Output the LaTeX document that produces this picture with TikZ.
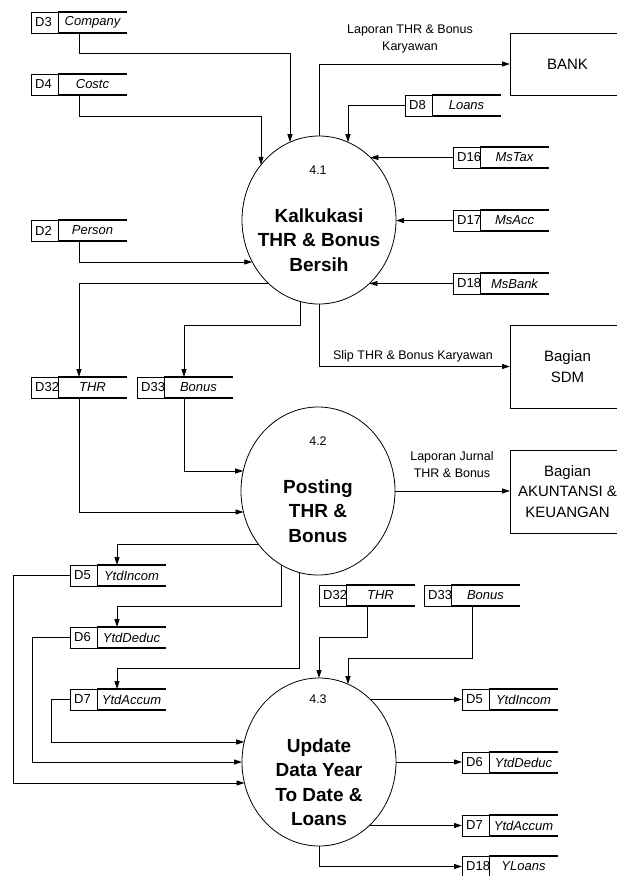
\documentclass[tikz,border=0pt]{standalone}
\usepackage{fontspec}
\setmainfont{Liberation Sans}
\usetikzlibrary{shapes.geometric,arrows.meta,calc}

\tikzset{
  conn/.style={draw, line width=0.8pt, -{Triangle[length=8pt,width=5pt]}},
  process/.style={ellipse, draw, line width=0.8pt, minimum width=154pt,
    minimum height=168pt, inner sep=0pt, outer sep=0pt},
  pnum/.style={font=\fontsize{12.5}{15}\selectfont, inner sep=0pt},
  ptitle/.style={font=\bfseries\fontsize{19}{24.5}\selectfont, align=center, inner sep=0pt},
  entity/.style={draw, line width=0.8pt, anchor=north west, minimum width=115pt,
    minimum height=62pt, inner sep=0pt, outer sep=0pt},
  entitytext/.style={font=\fontsize{15}{20.5}\selectfont, align=center, inner sep=0pt},
  store/.style={anchor=north west, minimum width=96pt, minimum height=21pt,
    inner sep=0pt, outer sep=0pt},
  storebox/.style={draw, line width=0.7pt},
  storeedge/.style={draw, line width=1.2pt},
  storeid/.style={font=\fontsize{13}{15}\selectfont, inner sep=0pt, anchor=west},
  storelabel/.style={font=\itshape\fontsize{13}{15}\selectfont, inner sep=0pt},
  flowlabel/.style={font=\fontsize{12.5}{17}\selectfont, align=center, inner sep=0pt},
}

% data store: name, x, y (top left), id, label
\newcommand{\datastore}[5]{%
  \node[store] (#1) at (#2,#3) {};
  \draw[storebox] (#1.north west) rectangle ([xshift=27pt]#1.south west);
  \draw[storeedge] ([xshift=27pt]#1.north west) -- (#1.north east)
                   ([xshift=27pt]#1.south west) -- (#1.south east);
  \node[storeid] at ([xshift=4pt]#1.west) {#4};
  \node[storelabel] at ([xshift=13.5pt]#1.center) {#5};
}

\begin{document}
\begin{tikzpicture}[x=1pt, y=-1pt]
\useasboundingbox (0,0) rectangle (617,876);
\clip (0,0) rectangle (617,876);
\fill[white] (0,0) rectangle (617,876);

% processes
\node[process] (p1) at (319,220) {};
\node[process] (p2) at (318,491) {};
\node[process] (p3) at (319,762) {};

\node[pnum] (p1n) at ($(p1)+(-1,-50)$) {4.1};
\node[ptitle] (p1t) at ($(p1)+(0,20)$) {Kalkukasi\\THR \& Bonus\\Bersih};
\node[pnum] (p2n) at ($(p2)+(0,-50)$) {4.2};
\node[ptitle] (p2t) at ($(p2)+(0,20)$) {Posting\\THR \&\\Bonus};
\node[pnum] (p3n) at ($(p3)+(-1,-63)$) {4.3};
\node[ptitle] (p3t) at ($(p3)+(0,20)$) {Update\\Data Year\\To Date \&\\Loans};

% external entities
\node[entity] (bank) at (510,33) {};
\node[entitytext] at (bank.center) {BANK};
\node[entity, minimum height=83pt] (sdm) at (510,325) {};
\node[entitytext] at (sdm.center) {Bagian\\SDM};
\node[entity, minimum height=83pt] (ak) at (510,450) {};
\node[entitytext] at (ak.center) {Bagian\\AKUNTANSI \&\\KEUANGAN};

% data stores
\datastore{d3}{31}{12}{D3}{Company}
\datastore{d4}{31}{74}{D4}{Costc}
\datastore{d2}{31}{220}{D2}{Person}
\datastore{d8}{405}{95}{D8}{Loans}
\datastore{d16}{453}{147}{D16}{MsTax}
\datastore{d17}{453}{210}{D17}{MsAcc}
\datastore{d18}{453}{273}{D18}{MsBank}
\datastore{d32}{31}{377}{D32}{THR}
\datastore{d33}{137}{377}{D33}{Bonus}
\datastore{d5}{70}{565}{D5}{YtdIncom}
\datastore{d6}{70}{627}{D6}{YtdDeduc}
\datastore{d7}{70}{689}{D7}{YtdAccum}
\datastore{d32b}{319}{585}{D32}{THR}
\datastore{d33b}{424}{585}{D33}{Bonus}
\datastore{d5b}{462}{689}{D5}{YtdIncom}
\datastore{d6b}{462}{752}{D6}{YtdDeduc}
\datastore{d7b}{462}{815}{D7}{YtdAccum}
\datastore{d18b}{462}{856}{D18}{YLoans}

% flows into 4.1
\draw[conn] ([xshift=48pt]d3.south west) -- ++(0,20) -| ($(p1)+(-29,-77.8)$);
\draw[conn] ([xshift=48pt]d4.south west) -- ++(0,21) -| ($(p1)+(-58,-55.2)$);
\draw[conn] ([xshift=48pt]d2.south west) |- ($(p1)+(-66.7,42)$);
\draw[conn] (d8.west) -| ($(p1)+(29,-77.8)$);
\draw[conn] (d16.west) -- ($(p1)+(51.4,-62.5)$);
\draw[conn] (d17.west) -- ($(p1)+(77,0.5)$);
\draw[conn] (d18.west) -- ($(p1)+(50.4,63.5)$);

% flows out of 4.1
\draw[conn] (p1.north) |- (bank.west);
\node[flowlabel] (lbank) at (410,38.5) {Laporan THR \& Bonus\\Karyawan};
\draw[conn] (p1.south) |- (sdm.west);
\node[flowlabel] (lsdm) at (413,356) {Slip THR \& Bonus Karyawan};
\draw[conn] ($(p1)+(-50.4,63.5)$) -| ([xshift=48pt]d32.north west);
\draw[conn] ($(p1)+(-19,81.4)$) -- ++(0,23.6) -| ([xshift=47pt]d33.north west);

% flows into 4.2
\draw[conn] ([xshift=47pt]d33.south west) |- ($(p2)+(-74.8,-20)$);
\draw[conn] ([xshift=48pt]d32.south west) |- ($(p2)+(-74.5,21)$);

% flows out of 4.2
\draw[conn] (p2.east) -- (p2.east -| ak.west);
\node[flowlabel] (lak) at (452,465) {Laporan Jurnal\\THR \& Bonus};
\draw[conn] ($(p2)+(-59.7,53)$) -| ([xshift=47pt]d5.north west);
\draw[conn] ($(p2)+(-37,73.7)$) -- ++(0,41.3) -| ([xshift=47pt]d6.north west);
\draw[conn] ($(p2)+(-19,81.4)$) -- ++(0,96) -| ([xshift=47pt]d7.north west);

% flows into 4.3
\draw[conn] (d5.west) -- ++(-57,0) |- ($(p3)+(-74.5,21)$);
\draw[conn] (d6.west) -- ++(-38,0) |- (p3.west);
\draw[conn] (d7.west) -- ++(-19,0) |- ($(p3)+(-74.8,-20)$);
\draw[conn] ([xshift=48pt]d32b.south west) -- ++(0,31) -| (p3.north);
\draw[conn] ([xshift=48pt]d33b.south west) -- ++(0,52) -| ($(p3)+(29,-77.8)$);

% flows out of 4.3
\draw[conn] ($(p3)+(51.4,-62.5)$) -- (d5b.west);
\draw[conn] (p3.east) -- (p3.east -| d6b.west);
\draw[conn] ($(p3)+(50.4,63.5)$) -- (d7b.west);
\draw[conn] (p3.south) |- (d18b.west);
\end{tikzpicture}
\end{document}
